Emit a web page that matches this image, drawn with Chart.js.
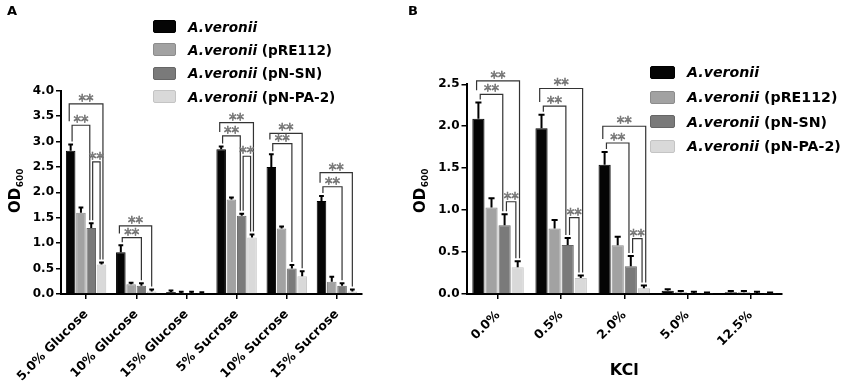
<!doctype html>
<html lang="en">
<head>
<meta charset="utf-8">
<title>OD600 growth</title>
<script src="https://cdn.jsdelivr.net/npm/chart.js@4.4.1/dist/chart.umd.min.js"></script>
<style>
  body { margin: 0; background: #fff; font-family: "DejaVu Sans", sans-serif; }
  #wrap { position: relative; width: 851px; height: 390px; overflow: hidden; }
  canvas { position: absolute; top: 0; }
  .letter { position: absolute; font-weight: bold; font-size: 13px; line-height: 13px; }
  .legend { position: absolute; font-weight: bold; color: #000; }
  .legend .row { display: flex; align-items: center; white-space: pre; }
  .legend .sw { display: inline-block; border-radius: 2px; box-sizing: border-box; border: 1px solid; }
</style>
</head>
<body>
<div id="wrap">
  <canvas id="chartA" width="400" height="390" style="left:0"></canvas>
  <canvas id="chartB" width="451" height="390" style="left:400px"></canvas>
  <div class="letter" style="left:7px; top:4px">A</div>
  <div class="letter" style="left:408px; top:4px">B</div>
  <div class="legend" id="legA" style="left:153px; top:15px; font-size:13.6px"></div>
  <div class="legend" id="legB" style="left:650px; top:60px; font-size:14.2px"></div>
</div>

<script>
// ---- data ----
const seriesNames = ['A.veronii', 'A.veronii (pRE112)', 'A.veronii (pN-SN)', 'A.veronii (pN-PA-2)'];
const fills = ['#050505', '#a2a2a2', '#7a7a7a', '#d9d9d9'];
const edges = ['#000000', '#8c8c8c', '#666666', '#c4c4c4'];

// panel A: sugars
const groupsA = ['5.0% Glucose', '10% Glucose', '15% Glucose', '5% Sucrose', '10% Sucrose', '15% Sucrose'];
const wtA = [2.82, 0.82, 0.04, 2.85, 2.50, 1.83];
const wtErrA = [0.10, 0.12, 0.01, 0.03, 0.23, 0.08];
const pre112A = [1.60, 0.19, 0.02, 1.86, 1.29, 0.24];
const pre112ErrA = [0.08, 0.01, 0.005, 0.02, 0.02, 0.08];
const pnsnA = [1.30, 0.16, 0.02, 1.54, 0.50, 0.16];
const pnsnErrA = [0.07, 0.03, 0.005, 0.02, 0.05, 0.03];
const pnpaA = [0.58, 0.05, 0.01, 1.11, 0.35, 0.05];
const pnpaErrA = [0.02, 0.02, 0.005, 0.04, 0.08, 0.02];
// [group, from series, to series, bracket height]
const sigA = [
  [0, 0, 3, 3.74], [0, 0, 2, 3.32], [0, 2, 3, 2.60],
  [1, 0, 3, 1.34], [1, 0, 2, 1.11],
  [3, 0, 3, 3.37], [3, 0, 2, 3.11], [3, 2, 3, 2.71],
  [4, 0, 3, 3.16], [4, 0, 2, 2.96],
  [5, 0, 3, 2.39], [5, 0, 2, 2.11]
];

// panel B: KCl
const groupsB = ['0.0%', '0.5%', '2.0%', '5.0%', '12.5%'];
const wtB = [2.09, 1.975, 1.54, 0.04, 0.02];
const wtErrB = [0.18, 0.15, 0.14, 0.005, 0.005];
const pre112B = [1.03, 0.78, 0.58, 0.02, 0.02];
const pre112ErrB = [0.10, 0.09, 0.09, 0.005, 0.005];
const pnsnB = [0.82, 0.585, 0.33, 0.01, 0.01];
const pnsnErrB = [0.12, 0.07, 0.11, 0.005, 0.005];
const pnpaB = [0.32, 0.19, 0.07, 0.005, 0.005];
const pnpaErrB = [0.06, 0.02, 0.02, 0, 0];
const sigB = [
  [0, 0, 3, 2.54], [0, 0, 2, 2.38], [0, 2, 3, 1.10],
  [1, 0, 3, 2.45], [1, 0, 2, 2.24], [1, 2, 3, 0.91],
  [2, 0, 3, 2.00], [2, 0, 2, 1.80], [2, 2, 3, 0.66]
];

Chart.defaults.font.family = '"DejaVu Sans", sans-serif';
Chart.defaults.font.weight = 'bold';
Chart.defaults.color = '#000';

// error bars, significance brackets and the OD600 axis title
const marks = {
  id: 'marks',
  afterDatasetsDraw(chart) {
    const ctx = chart.ctx, y = chart.scales.y;
    ctx.save();
    ctx.strokeStyle = '#000';
    ctx.lineWidth = 2;
    chart.data.datasets.forEach((ds, di) => {
      chart.getDatasetMeta(di).data.forEach((bar, i) => {
        const top = y.getPixelForValue(ds.data[i] + ds.errors[i]) - 1;
        const cap = bar.width * 0.25;
        ctx.beginPath();
        ctx.moveTo(bar.x, bar.y);
        ctx.lineTo(bar.x, top);
        ctx.moveTo(bar.x - cap, top);
        ctx.lineTo(bar.x + cap, top);
        ctx.stroke();
      });
    });
    ctx.restore();
  },
  afterDraw(chart, args, opts) {
    const ctx = chart.ctx, y = chart.scales.y;
    const sets = chart.data.datasets;
    const sig = opts.sig;

    // legs landing on each bar
    const legs = {};
    sig.forEach((s, k) => {
      const [c, a, b, v] = s;
      (legs[c + '-' + a] = legs[c + '-' + a] || []).push({ k, side: 'L', span: b - a, v });
      (legs[c + '-' + b] = legs[c + '-' + b] || []).push({ k, side: 'R', span: b - a, v });
    });
    const legPos = {};
    Object.keys(legs).forEach(key => {
      const [c, s] = key.split('-').map(Number);
      const bar = chart.getDatasetMeta(s).data[c];
      const list = legs[key];
      const R = list.filter(l => l.side === 'R').sort((p, q) => p.span - q.span);
      const L = list.filter(l => l.side === 'L').sort((p, q) => q.span - p.span);
      const order = R.concat(L);
      const errTop = y.getPixelForValue(sets[s].data[c] + sets[s].errors[c]) - 4;
      const Ldesc = L.slice().sort((p, q) => q.v - p.v);
      order.forEach((l, i) => {
        const x = bar.x + (i - (order.length - 1) / 2) * bar.width * 0.3;
        let bottom = errTop;
        if (l.side === 'L') {
          const j = Ldesc.indexOf(l);
          if (j < Ldesc.length - 1) bottom = y.getPixelForValue(Ldesc[j + 1].v) - 4;
        }
        legPos[l.k + l.side] = { x, bottom };
      });
    });

    ctx.save();
    ctx.font = '15px "DejaVu Sans"';
    ctx.textAlign = 'center';
    ctx.textBaseline = 'alphabetic';
    const m = ctx.measureText('**');
    sig.forEach((s, k) => {
      const ly = y.getPixelForValue(s[3]);
      const pl = legPos[k + 'L'], pr = legPos[k + 'R'];
      ctx.strokeStyle = '#333';
      ctx.lineWidth = 1.2;
      ctx.beginPath();
      ctx.moveTo(pl.x, pl.bottom);
      ctx.lineTo(pl.x, ly);
      ctx.lineTo(pr.x, ly);
      ctx.lineTo(pr.x, pr.bottom);
      ctx.stroke();
      const base = ly - 2 - m.actualBoundingBoxDescent;
      ctx.fillStyle = '#b4b4b4';
      ctx.fillText('**', (pl.x + pr.x) / 2, base);
      ctx.lineWidth = 0.6;
      ctx.strokeStyle = '#666';
      ctx.strokeText('**', (pl.x + pr.x) / 2, base);
    });

    // rotated OD600 title with subscript
    ctx.translate(opts.titleX, opts.titleY);
    ctx.rotate(-Math.PI / 2);
    ctx.fillStyle = '#000';
    ctx.textAlign = 'left';
    ctx.font = 'bold 15px "DejaVu Sans"';
    const w1 = ctx.measureText('OD').width;
    ctx.font = 'bold 9px "DejaVu Sans"';
    const w2 = ctx.measureText('600').width;
    const x0 = -(w1 + w2) / 2;
    ctx.font = 'bold 15px "DejaVu Sans"';
    ctx.fillText('OD', x0, 5);
    ctx.font = 'bold 9px "DejaVu Sans"';
    ctx.fillText('600', x0 + w1 + 0.5, 8);
    ctx.restore();
  }
};

function makeChart(id, labels, values, errors, ymax, sig, box, xTitle) {
  return new Chart(document.getElementById(id), {
    type: 'bar',
    data: {
      labels: labels,
      datasets: values.map((v, i) => ({
        label: seriesNames[i],
        data: v,
        errors: errors[i],
        backgroundColor: fills[i],
        borderColor: edges[i],
        borderWidth: 1,
        categoryPercentage: box.cat,
        barPercentage: 0.93
      }))
    },
    options: {
      responsive: false,
      animation: false,
      layout: { padding: { top: box.top, right: box.right, left: 0, bottom: 0 } },
      plugins: {
        legend: { display: false },
        tooltip: { enabled: false },
        marks: { sig: sig, titleX: box.titleX, titleY: 191 }
      },
      scales: {
        x: {
          grid: { offset: false, drawOnChartArea: false, tickLength: 5, color: '#000', lineWidth: 1.5 },
          border: { color: '#000', width: 2 },
          ticks: { autoSkip: false, minRotation: 45, maxRotation: 45, padding: box.pad, font: { size: 12.5, weight: 'bold' } },
          title: { display: !!xTitle, text: xTitle, font: { size: 16, weight: 'bold' }, padding: { top: 0, bottom: 10 } },
          afterFit(s) { s.height = 96; }
        },
        y: {
          min: 0,
          max: ymax,
          grid: { drawOnChartArea: false, tickLength: 5, color: '#000', lineWidth: 1.5 },
          border: { color: '#000', width: 2 },
          ticks: { stepSize: 0.5, padding: 2, font: { size: 12, weight: 'bold' }, callback: v => v.toFixed(1) },
          afterFit(s) { s.width = box.left; }
        }
      }
    },
    plugins: [marks]
  });
}

makeChart('chartA', groupsA,
  [wtA, pre112A, pnsnA, pnpaA], [wtErrA, pre112ErrA, pnsnErrA, pnpaErrA],
  4.0, sigA, { left: 61, right: 38, top: 90.7, cat: 0.82, titleX: 14.5, pad: 8 }, '');
makeChart('chartB', groupsB,
  [wtB, pre112B, pnsnB, pnpaB], [wtErrB, pre112ErrB, pnsnErrB, pnpaErrB],
  2.5, sigB, { left: 66.5, right: 69, top: 84.3, cat: 0.83, titleX: 20, pad: 9 }, 'KCl');

// HTML legends
function legend(id, sw, rowH, gap) {
  const el = document.getElementById(id);
  seriesNames.forEach((name, i) => {
    const cut = name.indexOf(' ');
    const it = cut < 0 ? name : name.slice(0, cut);
    const rest = cut < 0 ? '' : name.slice(cut);
    const row = document.createElement('div');
    row.className = 'row';
    row.style.height = rowH + 'px';
    row.innerHTML = '<span class="sw" style="width:' + sw[0] + 'px;height:' + sw[1] + 'px;margin-right:' + gap +
      'px;background:' + fills[i] + ';border-color:' + edges[i] + '"></span><i>' + it + '</i><span>' + rest + '</span>';
    el.appendChild(row);
  });
}
legend('legA', [23, 13], 23.3, 12);
legend('legB', [25, 13], 24.7, 12);
</script>
</body>
</html>
